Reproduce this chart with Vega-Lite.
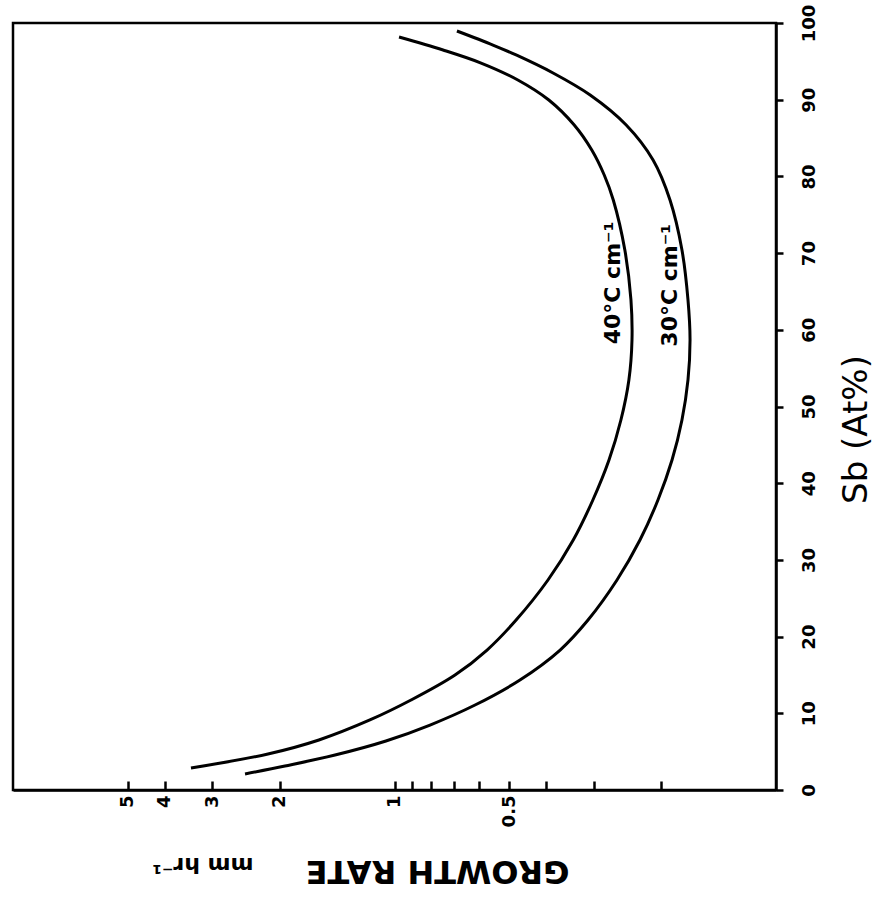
{
  "$schema": "https://vega.github.io/schema/vega-lite/v6.json",
  "width": 763,
  "height": 767,
  "autosize": "none",
  "padding": {"left": 13, "top": 23, "right": 101, "bottom": 111},
  "background": "white",
  "config": {
    "view": {"stroke": "black", "strokeWidth": 2.5},
    "font": "DejaVu Sans"
  },
  "datasets": {
    "curves": [
      {"gradient": "40°C cm⁻¹", "sb": 98.17, "rate": 0.973},
      {"gradient": "40°C cm⁻¹", "sb": 96.48, "rate": 0.746},
      {"gradient": "40°C cm⁻¹", "sb": 94.78, "rate": 0.593},
      {"gradient": "40°C cm⁻¹", "sb": 92.57, "rate": 0.475},
      {"gradient": "40°C cm⁻¹", "sb": 89.96, "rate": 0.394},
      {"gradient": "40°C cm⁻¹", "sb": 86.70, "rate": 0.338},
      {"gradient": "40°C cm⁻¹", "sb": 83.44, "rate": 0.304},
      {"gradient": "40°C cm⁻¹", "sb": 80.18, "rate": 0.282},
      {"gradient": "40°C cm⁻¹", "sb": 76.92, "rate": 0.267},
      {"gradient": "40°C cm⁻¹", "sb": 70.40, "rate": 0.249},
      {"gradient": "40°C cm⁻¹", "sb": 63.89, "rate": 0.240},
      {"gradient": "40°C cm⁻¹", "sb": 58.67, "rate": 0.2385},
      {"gradient": "40°C cm⁻¹", "sb": 53.46, "rate": 0.243},
      {"gradient": "40°C cm⁻¹", "sb": 48.24, "rate": 0.255},
      {"gradient": "40°C cm⁻¹", "sb": 43.02, "rate": 0.274},
      {"gradient": "40°C cm⁻¹", "sb": 37.81, "rate": 0.302},
      {"gradient": "40°C cm⁻¹", "sb": 32.59, "rate": 0.340},
      {"gradient": "40°C cm⁻¹", "sb": 27.38, "rate": 0.396},
      {"gradient": "40°C cm⁻¹", "sb": 22.16, "rate": 0.480},
      {"gradient": "40°C cm⁻¹", "sb": 18.25, "rate": 0.572},
      {"gradient": "40°C cm⁻¹", "sb": 14.99, "rate": 0.694},
      {"gradient": "40°C cm⁻¹", "sb": 11.73, "rate": 0.905},
      {"gradient": "40°C cm⁻¹", "sb": 9.13, "rate": 1.160},
      {"gradient": "40°C cm⁻¹", "sb": 6.52, "rate": 1.578},
      {"gradient": "40°C cm⁻¹", "sb": 4.69, "rate": 2.146},
      {"gradient": "40°C cm⁻¹", "sb": 2.87, "rate": 3.416},
      {"gradient": "30°C cm⁻¹", "sb": 98.96, "rate": 0.686},
      {"gradient": "30°C cm⁻¹", "sb": 97.13, "rate": 0.552},
      {"gradient": "30°C cm⁻¹", "sb": 95.83, "rate": 0.480},
      {"gradient": "30°C cm⁻¹", "sb": 93.48, "rate": 0.384},
      {"gradient": "30°C cm⁻¹", "sb": 90.61, "rate": 0.307},
      {"gradient": "30°C cm⁻¹", "sb": 86.70, "rate": 0.247},
      {"gradient": "30°C cm⁻¹", "sb": 82.14, "rate": 0.210},
      {"gradient": "30°C cm⁻¹", "sb": 76.92, "rate": 0.1896},
      {"gradient": "30°C cm⁻¹", "sb": 70.40, "rate": 0.1764},
      {"gradient": "30°C cm⁻¹", "sb": 63.89, "rate": 0.1701},
      {"gradient": "30°C cm⁻¹", "sb": 58.67, "rate": 0.1680},
      {"gradient": "30°C cm⁻¹", "sb": 53.46, "rate": 0.1701},
      {"gradient": "30°C cm⁻¹", "sb": 48.24, "rate": 0.1764},
      {"gradient": "30°C cm⁻¹", "sb": 43.02, "rate": 0.1873},
      {"gradient": "30°C cm⁻¹", "sb": 37.81, "rate": 0.2039},
      {"gradient": "30°C cm⁻¹", "sb": 32.59, "rate": 0.2273},
      {"gradient": "30°C cm⁻¹", "sb": 27.38, "rate": 0.2611},
      {"gradient": "30°C cm⁻¹", "sb": 22.16, "rate": 0.311},
      {"gradient": "30°C cm⁻¹", "sb": 18.25, "rate": 0.368},
      {"gradient": "30°C cm⁻¹", "sb": 14.34, "rate": 0.469},
      {"gradient": "30°C cm⁻¹", "sb": 11.08, "rate": 0.615},
      {"gradient": "30°C cm⁻¹", "sb": 8.47, "rate": 0.807},
      {"gradient": "30°C cm⁻¹", "sb": 6.39, "rate": 1.053},
      {"gradient": "30°C cm⁻¹", "sb": 4.56, "rate": 1.432},
      {"gradient": "30°C cm⁻¹", "sb": 3.13, "rate": 1.937},
      {"gradient": "30°C cm⁻¹", "sb": 2.09, "rate": 2.465}
    ],
    "curveLabels": [
      {"gradient": "40°C cm⁻¹", "sb": 66.1, "rate": 0.268},
      {"gradient": "30°C cm⁻¹", "sb": 65.8, "rate": 0.190}
    ]
  },
  "layer": [
    {
      "data": {"name": "curves"},
      "mark": {"type": "line", "interpolate": "catmull-rom", "color": "black", "strokeWidth": 3},
      "encoding": {
        "x": {
          "field": "rate",
          "type": "quantitative",
          "scale": {"type": "log", "domain": [0.1, 10], "reverse": true, "nice": false},
          "axis": {
            "orient": "bottom",
            "values": [0.2, 0.3, 0.4, 0.5, 0.6, 0.7, 0.8, 0.9, 1, 2, 3, 4, 5],
            "labelExpr": "datum.value == 0.5 ? '0.5' : (datum.value >= 1 ? '' + datum.value : '')",
            "labelAngle": -90,
            "labelFontSize": 18,
            "labelFont": "DejaVu Sans",
            "labelFontWeight": "bold",
            "labelColor": "black",
            "labelPadding": 14,
            "labelOverlap": false,
            "labelFlush": false,
            "tickSize": -9,
            "tickWidth": 2.5,
            "tickColor": "black",
            "domainColor": "black",
            "domainWidth": 2.5,
            "grid": false,
            "title": "GROWTH RATE",
            "titleAngle": 180,
            "titleFontSize": 32,
            "titleFont": "DejaVu Sans",
            "titleFontWeight": "bold",
            "titleColor": "black",
            "titleAlign": "center",
            "titleBaseline": "alphabetic",
            "titleX": 424,
            "titleY": 70
          }
        },
        "y": {
          "field": "sb",
          "type": "quantitative",
          "scale": {"domain": [0, 100], "nice": false},
          "axis": {
            "orient": "right",
            "values": [0, 10, 20, 30, 40, 50, 60, 70, 80, 90, 100],
            "labelAngle": -90,
            "labelAlign": "center",
            "labelBaseline": "top",
            "labelFontSize": 18,
            "labelFont": "DejaVu Sans",
            "labelFontWeight": "bold",
            "labelColor": "black",
            "labelPadding": 17,
            "labelOverlap": false,
            "labelFlush": false,
            "tickSize": 7,
            "tickWidth": 2.5,
            "tickColor": "black",
            "domainColor": "black",
            "domainWidth": 2.5,
            "grid": false,
            "title": "Sb (At%)",
            "titleAngle": 270,
            "titleFontSize": 34,
            "titleFont": "DejaVu Sans",
            "titleFontWeight": "normal",
            "titleColor": "black",
            "titleAlign": "center",
            "titleBaseline": "top",
            "titleX": 63,
            "titleY": 406
          }
        },
        "detail": {"field": "gradient"},
        "order": {"field": "sb", "type": "quantitative"}
      }
    },
    {
      "data": {"name": "curveLabels"},
      "mark": {"type": "text", "angle": 270, "fontSize": 22, "fontWeight": "bold", "font": "DejaVu Sans", "color": "black", "align": "center", "baseline": "middle"},
      "encoding": {
        "x": {"field": "rate", "type": "quantitative"},
        "y": {"field": "sb", "type": "quantitative"},
        "text": {"field": "gradient"}
      }
    },
    {
      "data": {"values": [{"unit": "mm  hr⁻¹"}]},
      "mark": {"type": "text", "angle": 180, "fontSize": 22, "fontWeight": "bold", "font": "DejaVu Sans", "color": "black", "align": "center", "baseline": "alphabetic"},
      "encoding": {
        "x": {"datum": 3.18},
        "y": {"datum": -8.9},
        "text": {"field": "unit"}
      }
    }
  ]
}
